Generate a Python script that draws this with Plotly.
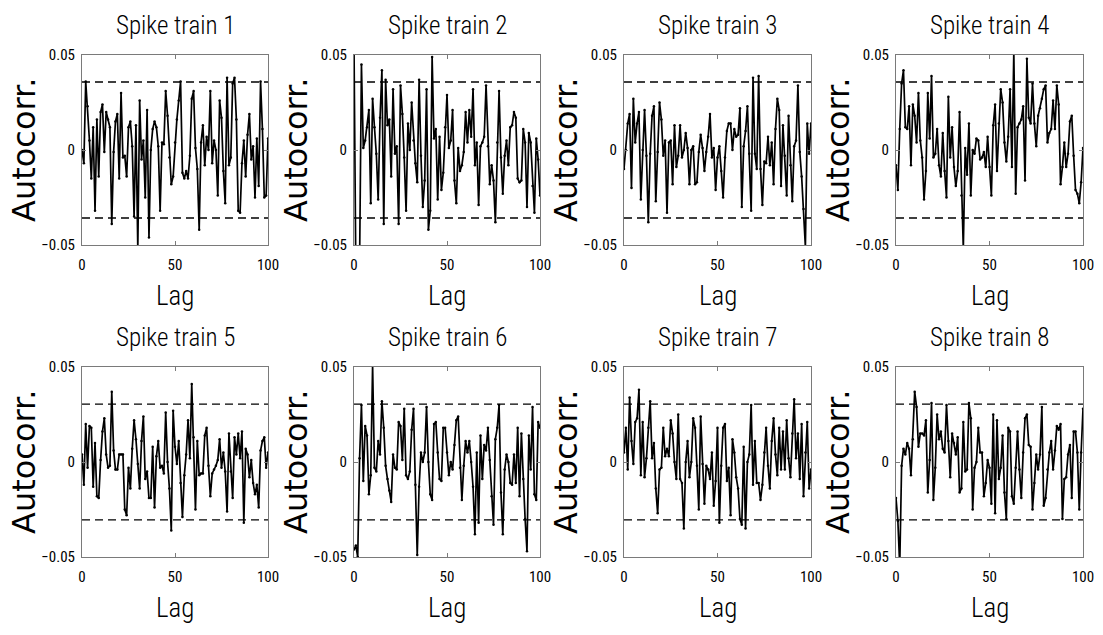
import plotly.graph_objects as go

# ---- data -------------------------------------------------------------
titles = ["Spike train 1", "Spike train 2", "Spike train 3", "Spike train 4",
          "Spike train 5", "Spike train 6", "Spike train 7", "Spike train 8"]

lags = list(range(0, 101))

acf_1 = [0, -0.007, 0.036, 0.023, 0.005, -0.015, 0.012, -0.032, 0.016, -0.014,
         0.02, 0.024, -0.001, 0.02, 0.016, 0.012, -0.039, -0.001, 0.015, 0.019,
         -0.015, 0.03, -0.004, -0.003, -0.014, 0.012, 0.015, 0.002, -0.035, 0.013,
         -0.052, 0.026, -0.005, 0.005, -0.025, 0.021, -0.046, 0, 0.011, 0.015,
         0.012, 0.002, -0.032, 0.004, 0.003, 0.031, 0.018, -0.004, -0.018, -0.014,
         0.004, 0.016, 0.026, 0.036, -0.012, -0.015, -0.011, -0.015, -0.003, 0.027,
         0.031, 0.001, -0.01, -0.042, 0.004, 0.013, -0.008, 0.007, 0, 0.031,
         -0.007, 0.005, 0, -0.024, 0.026, 0.017, -0.011, -0.028, 0.038, -0.008,
         -0.004, 0.035, 0.038, 0.016, -0.032, -0.033, -0.007, 0.005, -0.014, 0.008,
         0.019, -0.005, 0.002, -0.025, 0.006, -0.019, 0.036, 0.011, -0.025, -0.024,
         0.006]

acf_2 = [0.055, -0.065, -0.06, -0.06, 0.045,
         0.001, 0.005, 0.012, 0.021, -0.028, 0.027, 0.012, -0.002, -0.026, 0.017,
         0.042, -0.039, 0.037, 0.013, 0.016, -0.014, 0.032, -0.002, 0.002, -0.039,
         0.034, 0.019, -0.004, -0.032, 0.014, 0, 0.025, 0.005, -0.007, -0.017,
         0.037, -0.003, -0.03, -0.016, 0.032, -0.042, -0.032, 0.049, 0.006, 0.011,
         -0.026, 0.007, -0.021, -0.012, 0.012, 0.029, 0.001, 0.005, 0.021, -0.016,
         -0.028, 0.001, -0.011, -0.008, -0.001, 0.02, 0.004, 0.021, 0.007, 0.032,
         -0.008, 0.004, -0.029, 0.002, 0.004, 0.007, 0.034, 0.002, -0.018, -0.008,
         -0.016, -0.038, 0.004, 0.031, -0.004, -0.023, -0.003, 0.005, -0.008, 0.012,
         0.013, 0.02, 0.017, -0.015, -0.017, -0.016, 0.011, 0.004, -0.03, 0.009,
         0.004, -0.019, -0.033, 0.006, -0.005, -0.024]

acf_3 = [-0.01, 0, 0.014, 0.019, -0.02, 0.027, 0.004, 0.014, 0.02, -0.026,
         0, 0.021, -0.003, -0.038, -0.002, 0.018, 0.023, -0.027, -0.001, 0.025,
         0.016, -0.003, 0.005, -0.033, 0.004, 0.005, -0.018, 0.013, -0.009, -0.003,
         0.013, -0.004, 0, 0.009, 0.001, -0.018, 0, 0.002, -0.018, -0.017,
         -0.001, 0.008, 0.001, -0.011, -0.001, 0.007, 0.019, -0.004, 0.001, -0.021,
         -0.004, 0.002, -0.011, -0.025, -0.004, 0.01, 0.014, 0.014, 0, 0.011,
         0.007, 0.008, 0.022, -0.03, 0.002, 0.01, 0.023, -0.002, -0.032, 0.038,
         -0.002, -0.01, 0.039, -0.01, -0.029, -0.006, -0.007, 0.007, -0.008, 0.004,
         -0.018, 0.011, 0.027, 0.021, -0.019, 0.013, -0.003, -0.024, 0.018, -0.008,
         -0.027, 0.002, 0.005, 0.034, -0.001, -0.014, -0.031, -0.051, 0.014, -0.002,
         0.014]

acf_4 = [-0.008, -0.021, 0.011, 0.035, 0.042, 0.012, 0.011, 0.023, -0.008, 0.024,
         0.018, 0.004, 0.03, 0.005, -0.004, -0.026, -0.011, 0.03, 0.006, 0.039,
         -0.004, -0.002, 0.011, -0.008, -0.014, 0.009, -0.011, -0.025, 0.028, -0.004,
         0.012, -0.009, -0.019, -0.011, 0.02, -0.024, -0.052, 0.001, -0.013, 0.014,
         -0.024, 0, -0.002, 0.006, 0.005, -0.005, -0.004, -0.001, -0.009, 0.007,
         -0.009, -0.024, 0.013, 0.024, -0.011, 0.014, 0.032, 0.025, 0.004, -0.006,
         0.007, 0.032, -0.009, 0.052, -0.023, 0.012, 0.014, 0.016, 0.023, -0.016,
         0.048, 0.017, 0.014, 0.035, 0.014, 0.002, 0.018, 0.022, 0.027, 0.032,
         0.034, 0.004, 0.009, 0.011, 0.026, 0.011, 0.034, 0.024, -0.018, -0.009,
         0.004, -0.009, -0.002, 0.015, 0.018, -0.003, -0.021, -0.023, -0.028, -0.017,
         0.001]

acf_5 = [0.004, -0.012, 0.02, -0.003, 0.019, 0.018, -0.013, 0.01, -0.018, -0.019,
         0.001, 0.016, 0.023, 0.004, -0.003, -0.002, 0.037, 0.006, -0.004, -0.004,
         0.004, 0.004, 0.004, -0.025, -0.028, -0.003, -0.014, 0.007, 0.022, 0.012,
         -0.001, -0.014, 0.011, 0.024, -0.009, -0.005, -0.019, -0.019, 0.008, -0.024,
         0.003, 0.011, -0.003, -0.002, -0.006, 0.026, 0, -0.014, -0.036, 0.027,
         0.008, -0.001, 0.011, -0.011, -0.029, -0.007, 0.004, 0.022, 0.002, 0.041,
         0.013, -0.025, 0.011, -0.007, -0.006, -0.006, 0.014, 0.018, -0.002, -0.018,
         -0.006, -0.004, -0.002, 0.001, 0.012, -0.003, 0.005, -0.005, -0.026, 0.015,
         -0.005, -0.019, 0.013, 0.004, 0.015, 0.002, 0.016, -0.032, 0.007, 0.004,
         -0.008, 0.001, -0.011, -0.017, -0.012, -0.024, 0.006, 0.011, 0.013, -0.003,
         0.005]

acf_6 = [-0.046, -0.044, -0.05, 0.002, 0.03, -0.01, 0.019, 0.014, -0.017, -0.007,
         0.051, -0.003, -0.005, 0.011, 0.004, 0.032, 0.018, -0.002, -0.009, -0.015,
         -0.021, 0.004, -0.003, -0.004, 0.021, 0.019, 0.001, 0.028, -0.007, -0.009,
         -0.005, 0.017, 0.028, -0.012, -0.049, -0.013, 0.005, 0, 0.005, 0.029,
         0, -0.017, -0.02, 0.02, 0.021, 0.005, -0.009, -0.01, 0.018, 0.018,
         0.005, -0.007, 0, -0.004, 0.009, 0.022, 0.024, -0.003, -0.02, -0.002,
         0.011, 0.005, 0.011, 0, -0.013, -0.038, 0.005, -0.032, 0.014, -0.009,
         0.009, 0.006, 0.018, 0.001, -0.018, -0.033, 0.012, 0.018, 0.03, -0.016,
         -0.038, -0.004, 0.004, 0, -0.011, -0.012, 0.004, -0.011, 0.018, -0.018,
         0.015, -0.009, -0.03, -0.047, 0.014, -0.004, 0.029, -0.017, -0.02, 0.021,
         0.018]

acf_7 = [0.005, 0.018, -0.004, 0.034, 0.011, -0.001, 0.021, 0.023, 0.038, -0.007,
         0.021, -0.008, 0.002, 0.018, 0.032, 0.002, 0.01, -0.014, -0.027, -0.004,
         -0.003, 0.018, 0.003, 0.007, 0.003, 0.022, 0.015, 0, -0.009, 0.025,
         -0.009, -0.011, -0.035, 0, 0.011, -0.008, 0, 0.023, 0.018, -0.002,
         -0.025, 0.024, -0.001, -0.022, -0.002, -0.004, -0.009, 0.005, -0.023, -0.01,
         0.018, -0.032, -0.002, 0.018, 0.02, -0.01, -0.003, -0.028, 0.012, 0.005,
         -0.008, -0.014, -0.03, -0.033, 0.008, -0.035, 0, 0.004, 0.03, -0.012,
         0.011, -0.011, -0.011, -0.02, -0.012, 0.005, 0.018, -0.002, -0.014, 0.011,
         0.023, 0.004, -0.007, 0.018, -0.004, 0.016, -0.004, 0.022, 0.002, -0.008,
         0.015, 0.033, 0.002, 0.015, -0.009, 0.02, -0.018, 0.005, 0.021, -0.014,
         -0.004]

acf_8 = [-0.019, -0.031, -0.055, -0.002, 0.007, 0.004, 0.01, 0.007, -0.007, 0.012,
         0.037, 0.029, 0.008, 0.015, 0.015, 0.014, 0.022, -0.016, 0.001, 0.031,
         -0.02, -0.003, 0.025, 0.012, 0.016, 0.007, 0.005, 0.03, 0.011, -0.008,
         0.015, 0.01, 0.004, 0.013, -0.016, -0.014, 0.021, -0.005, -0.004, 0.031,
         0.023, -0.025, -0.003, 0, 0.018, 0.005, 0.005, -0.018, -0.011, 0.001,
         -0.003, -0.022, 0.025, -0.027, 0.022, -0.009, -0.003, 0.014, -0.016, -0.03,
         0.018, 0.016, -0.018, -0.022, -0.003, 0.016, -0.004, -0.019, 0.005, 0.023,
         0.025, 0.009, 0.008, -0.025, -0.011, 0.004, -0.004, 0.004, 0.029, -0.023,
         -0.019, -0.004, 0.005, 0.011, -0.004, 0.006, 0.019, 0.017, 0.02, -0.03,
         -0.009, -0.008, 0.004, 0.009, -0.019, 0.016, 0.016, 0.005, -0.025, 0.005,
         0.028]

series = [acf_1, acf_2, acf_3, acf_4, acf_5, acf_6, acf_7, acf_8]

# 95% confidence bounds for each spike train
conf_bounds = [0.0358, 0.0358, 0.0358, 0.0358, 0.0305, 0.0305, 0.0305, 0.0305]

x_ticks = [0, 50, 100]
x_ticktext = ["0", "50", "100"]
y_ticks = [-0.05, 0, 0.05]
y_ticktext = ["\u22120.05", "0", "0.05"]

# ---- layout geometry (pixels) -----------------------------------------
W, H = 1103, 635
col_left = [82, 354, 624, 896]
col_right = [268, 540, 811, 1083]
row_top = [55, 367]
row_bottom = [245, 557]

NARROW = "Roboto Condensed, DejaVu Sans Condensed, sans-serif"
WIDE = "DejaVu Sans, sans-serif"

fig = go.Figure()
annotations = []

for i, (title, vals, bound) in enumerate(zip(titles, series, conf_bounds)):
    r, c = divmod(i, 4)
    n = i + 1
    xa = "x" if n == 1 else f"x{n}"
    ya = "y" if n == 1 else f"y{n}"

    # confidence bounds
    for b in (bound, -bound):
        fig.add_trace(go.Scatter(
            x=[x_ticks[0], x_ticks[-1]], y=[b, b], mode="lines",
            line=dict(color="black", width=1.3, dash="8px,5px"),
            xaxis=xa, yaxis=ya, showlegend=False, hoverinfo="skip"))

    # autocorrelation trace
    fig.add_trace(go.Scatter(
        x=lags[:len(vals)], y=vals, mode="lines+markers",
        line=dict(color="black", width=1.7),
        marker=dict(color="black", size=2.5),
        xaxis=xa, yaxis=ya, showlegend=False))

    axis_common = dict(showline=True, linecolor="#7a7a7a", linewidth=1,
                       mirror="ticks", ticks="inside", ticklen=4,
                       tickcolor="#7a7a7a", showgrid=False, zeroline=False,
                       automargin=False,
                       tickfont=dict(family=NARROW, size=15, weight=400,
                                     color="black"))
    xkey = "xaxis" if n == 1 else f"xaxis{n}"
    ykey = "yaxis" if n == 1 else f"yaxis{n}"
    fig.layout[xkey] = dict(
        axis_common,
        domain=[col_left[c] / W, col_right[c] / W],
        range=[0, 100], tickvals=x_ticks, ticktext=x_ticktext,
        anchor=ya, ticklabelstandoff=6)
    fig.layout[ykey] = dict(
        axis_common,
        domain=[1 - row_bottom[r] / H, 1 - row_top[r] / H],
        range=[-0.05, 0.05], tickvals=y_ticks, ticktext=y_ticktext,
        anchor=xa, ticklabelstandoff=3)

    cx = (col_left[c] + col_right[c]) / 2
    cy = (row_top[r] + row_bottom[r]) / 2
    annotations.append(dict(
        text=title, x=cx / W, y=1 - (row_top[r] - 30) / H,
        xref="paper", yref="paper", xanchor="center", yanchor="middle",
        showarrow=False,
        font=dict(family=NARROW, size=25, weight=350, color="black")))
    annotations.append(dict(
        text="Lag", x=cx / W, y=1 - (row_bottom[r] + 51) / H,
        xref="paper", yref="paper", xanchor="center", yanchor="middle",
        showarrow=False,
        font=dict(family=NARROW, size=27, weight=350, color="black")))
    annotations.append(dict(
        text="Autocorr.", x=(col_left[c] - 58) / W, y=1 - cy / H,
        xref="paper", yref="paper", xanchor="center", yanchor="middle",
        textangle=-90, showarrow=False,
        font=dict(family=WIDE, size=32, color="black")))

fig.update_layout(
    width=W, height=H,
    margin=dict(l=0, r=0, t=0, b=0, autoexpand=False),
    paper_bgcolor="white", plot_bgcolor="white",
    annotations=annotations,
)

fig.write_html("out.html",
               post_script="document.body.style.margin='0';"
                           "document.body.style.overflow='hidden';")
